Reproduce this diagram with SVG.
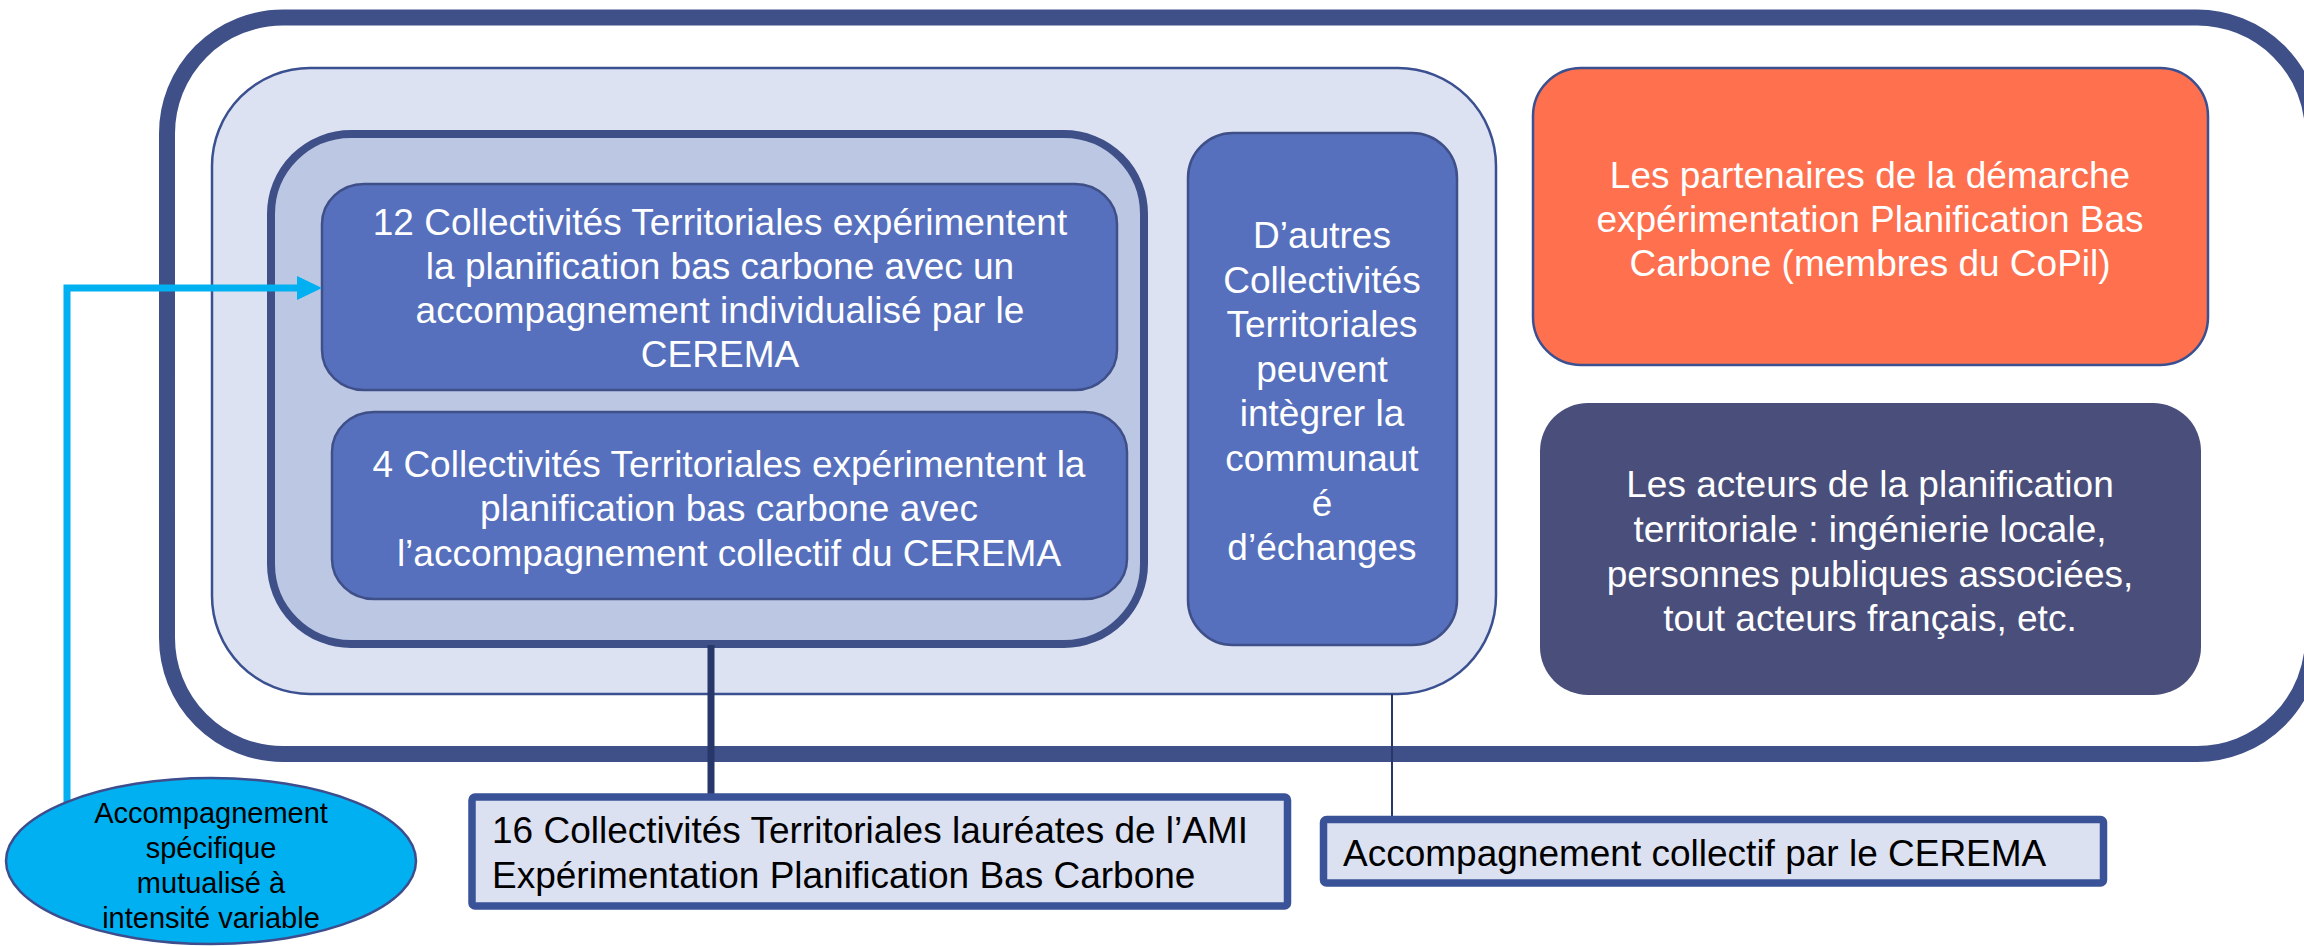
<svg xmlns="http://www.w3.org/2000/svg" width="2304" height="946" viewBox="0 0 2304 946">
<defs>
<style>
.t{font-family:"Liberation Sans",Arial,sans-serif;font-size:37px;text-anchor:middle}
.w{fill:#ffffff}
.k{fill:#000000}
.blue{fill:#5670BD;stroke:#3F4F88;stroke-width:2.5}
.lab{fill:#DCE1F1;stroke:#3A5398;stroke-width:7.5}
</style>
</defs>
<rect width="2304" height="946" fill="#ffffff"/>
<g id="outer">
<rect x="167" y="17.5" width="2146" height="736.5" rx="116" ry="116" fill="#ffffff" stroke="#3F5089" stroke-width="16"/>
</g>
<g id="community">
<rect x="212" y="68" width="1284" height="626" rx="98" ry="98" fill="#DDE2F2" stroke="#3B5090" stroke-width="2.5"/>
</g>
<g id="laureates-group">
<rect x="271" y="134" width="873" height="510" rx="80" ry="80" fill="#BCC7E4" stroke="#3F5089" stroke-width="8"/>
</g>
<g id="box12">
<rect class="blue" x="322" y="184" width="795" height="206" rx="42" ry="40"/>
<text class="t w"><tspan x="720" y="235">12 Collectivités Territoriales expérimentent</tspan><tspan x="720" y="279">la planification bas carbone avec un</tspan><tspan x="720" y="323">accompagnement individualisé par le</tspan><tspan x="720" y="367">CEREMA</tspan></text>
</g>
<g id="box4">
<rect class="blue" x="332" y="412" width="795" height="187" rx="42" ry="40"/>
<text class="t w"><tspan x="729" y="477">4 Collectivités Territoriales expérimentent la</tspan><tspan x="729" y="521">planification bas carbone avec</tspan><tspan x="729" y="566">l’accompagnement collectif du CEREMA</tspan></text>
</g>
<g id="autres">
<rect class="blue" x="1188" y="133" width="269" height="512" rx="45" ry="45"/>
<text class="t w"><tspan x="1322" y="248">D’autres</tspan><tspan x="1322" y="292.6">Collectivités</tspan><tspan x="1322" y="337.2">Territoriales</tspan><tspan x="1322" y="381.8">peuvent</tspan><tspan x="1322" y="426.4">intègrer la</tspan><tspan x="1322" y="471">communaut</tspan><tspan x="1322" y="515.6">é</tspan><tspan x="1322" y="560.2">d’échanges</tspan></text>
</g>
<g id="partenaires">
<rect x="1533" y="68" width="675" height="297" rx="48" ry="48" fill="#FE704E" stroke="#3B5090" stroke-width="2.5"/>
<text class="t w"><tspan x="1870" y="188">Les partenaires de la démarche</tspan><tspan x="1870" y="232">expérimentation Planification Bas</tspan><tspan x="1870" y="276">Carbone (membres du CoPil)</tspan></text>
</g>
<g id="acteurs">
<rect x="1540" y="403" width="661" height="292" rx="48" ry="48" fill="#4A4E7B"/>
<text class="t w"><tspan x="1870" y="497">Les acteurs de la planification</tspan><tspan x="1870" y="542">territoriale : ingénierie locale,</tspan><tspan x="1870" y="587">personnes publiques associées,</tspan><tspan x="1870" y="631">tout acteurs français, etc.</tspan></text>
</g>
<g id="connectors">
<line x1="711" y1="645" x2="711" y2="796" stroke="#27376A" stroke-width="7"/>
<line x1="1392" y1="694" x2="1392" y2="816" stroke="#27376A" stroke-width="2"/>
<polyline points="67,802 67,288 300,288" fill="none" stroke="#00B0F0" stroke-width="7"/>
<path d="M297,276 L322,288 L297,300 Z" fill="#00B0F0"/>
</g>
<g id="laureates">
<rect class="lab" x="472" y="797" width="815.5" height="109" rx="3"/>
<text class="t k" style="text-anchor:start"><tspan x="492" y="843">16 Collectivités Territoriales lauréates de l’AMI</tspan><tspan x="492" y="888">Expérimentation Planification Bas Carbone</tspan></text>
</g>
<g id="collectif">
<rect class="lab" x="1323.5" y="819.5" width="780" height="63.5" rx="3"/>
<text class="t k" style="text-anchor:start" x="1343" y="866">Accompagnement collectif par le CEREMA</text>
</g>
<g id="specifique">
<ellipse cx="211" cy="861" rx="205" ry="83" fill="#00B0F0" stroke="#3D4D8D" stroke-width="2.5"/>
<text class="t k" style="font-size:29px"><tspan x="211" y="823">Accompagnement</tspan><tspan x="211" y="858">spécifique</tspan><tspan x="211" y="893">mutualisé à</tspan><tspan x="211" y="928">intensité variable</tspan></text>
</g>
</svg>
